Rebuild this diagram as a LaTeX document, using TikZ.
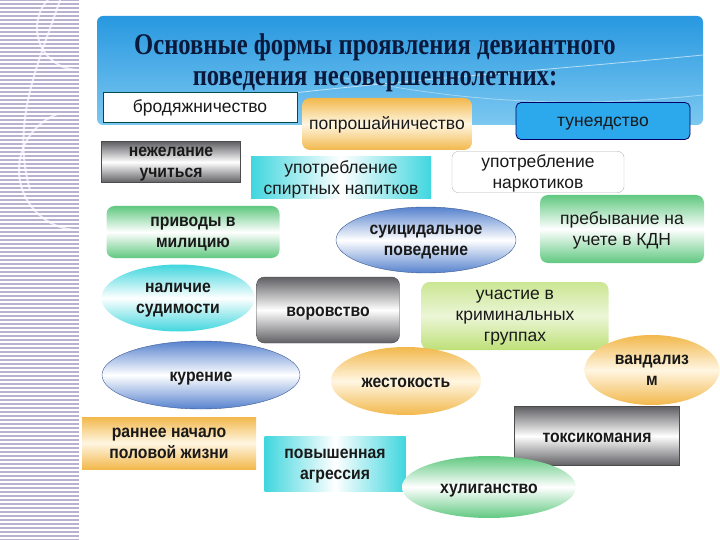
\documentclass[tikz,border=0pt]{standalone}
\usepackage{fontspec}
\setmainfont{Liberation Sans}
\newfontfamily\boxfont{Liberation Sans}
\newfontfamily\boldfont[FakeStretch=0.9]{Liberation Sans Bold}
\newfontfamily\titlefont[FakeStretch=0.82]{Liberation Serif Bold}
\usetikzlibrary{shapes.geometric}
\definecolor{lavender}{RGB}{186,176,208}
\definecolor{bannertop}{RGB}{40,152,224}
\definecolor{bannerbot}{RGB}{124,200,240}
\definecolor{titleink}{RGB}{10,24,60}
\definecolor{orng}{RGB}{242,184,76}
\definecolor{cream}{RGB}{255,246,226}
\definecolor{grn}{RGB}{96,200,128}
\definecolor{cyn}{RGB}{64,214,222}
\definecolor{blu}{RGB}{86,130,206}
\definecolor{lime}{RGB}{190,224,120}
\definecolor{sky}{RGB}{44,168,236}
\definecolor{steel}{RGB}{96,96,100}
\newcommand{\bt}{\boldfont}

\begin{document}
\begin{tikzpicture}[x=1pt, y=-1pt,
  every node/.style={font=\boxfont\fontsize{17.5}{21}\selectfont, align=center, inner sep=2pt, text depth=-3pt, text=black!90},
  oneline/.style={text height=12pt, text depth=0pt},
  whitebox/.style={rectangle, draw=teal!60!black, fill=white, thick},
  plainbox/.style={rectangle, rounded corners=6pt, draw=gray!60, fill=white},
  skybox/.style={rectangle, rounded corners=5pt, draw=blue!40!black, fill=sky, thick},
  metal/.style={rectangle, top color=steel, bottom color=steel, middle color=white, draw=black!70},
  orangebox/.style={rectangle, top color=orng, bottom color=orng, middle color=cream},
  greenbox/.style={rectangle, rounded corners=8pt, top color=grn, bottom color=grn, middle color=white},
  cyanbox/.style={rectangle, left color=cyn, right color=cyn, middle color=white},
  limebox/.style={rectangle, rounded corners=8pt, top color=lime!80, bottom color=lime, middle color=lime!30},
  blueoval/.style={ellipse, top color=blu, bottom color=blu, middle color=white, draw=blu!70!black},
  orangeoval/.style={ellipse, top color=orng, bottom color=orng, middle color=cream},
  greenoval/.style={ellipse, top color=grn, bottom color=grn, middle color=white},
  cyanoval/.style={ellipse, top color=cyn, bottom color=cyn, middle color=white},
]
\useasboundingbox (0,0) rectangle (720,540);
% side strip
\fill[lavender] (0,0) rectangle (79,540);
\foreach \y in {2,6,...,538}
  \draw[white, line width=1.2pt] (0,\y) -- (79,\y);
\draw[white, opacity=0.7, line width=2pt] (60,0) .. controls (40,60) and (10,120) .. (30,190);
\draw[white, opacity=0.7, line width=2pt] (79,70) arc[start angle=90, end angle=270, radius=42];
\draw[white, opacity=0.7, line width=2pt] (79,230) arc[start angle=90, end angle=250, radius=60];
% banner
\shade[top color=bannertop, bottom color=bannerbot, rounded corners=6pt] (97,16) rectangle (703,125);
\draw[white, opacity=0.6, thick] (250,98) .. controls (400,80) and (550,70) .. (703,55);
\draw[white, opacity=0.4, thick] (330,75) .. controls (450,100) and (560,110) .. (703,95);
\node[font=\titlefont\fontsize{30}{31}\selectfont, text=titleink, text depth=] (title) at (375,63)
  {Основные формы проявления девиантного\\поведения несовершеннолетних:};
% boxes
\node[whitebox, oneline, minimum width=194, minimum height=30] (brod) at (200,107) {бродяжничество};
\node[orangebox, oneline, rounded corners=8pt, minimum width=170, minimum height=52] (popr) at (387,124) {попрошайничество};
\node[skybox, oneline, minimum width=174, minimum height=37] (tuney) at (603,121) {тунеядство};
\node[metal, minimum width=139, minimum height=41] (nezh) at (171,162) {\bt нежелание\\\bt учиться};
\node[cyanbox, minimum width=180, minimum height=42] (spirt) at (341,178) {употребление\\спиртных напитков};
\node[plainbox, minimum width=172, minimum height=41] (nark) at (538,172) {употребление\\наркотиков};
\node[greenbox, minimum width=173, minimum height=52] (privod) at (193,232) {\bt приводы в\\\bt милицию};
\node[blueoval, minimum width=180, minimum height=66] (suic) at (426,240) {\bt суицидальное\\\bt поведение};
\node[greenbox, minimum width=164, minimum height=68] (uchet) at (622,229) {пребывание на\\учете в КДН};
\node[cyanoval, minimum width=153, minimum height=67] (sudim) at (178,298) {\bt наличие\\\bt судимости};
\node[metal, oneline, rounded corners=8pt, minimum width=143, minimum height=66] (vorov) at (328,310) {\bt воровство};
\node[limebox, minimum width=187, minimum height=68] (krim) at (515,316) {участие в\\криминальных\\группах};
\node[blueoval, oneline, minimum width=198, minimum height=68] (kur) at (201,375) {\bt курение};
\node[orangeoval, oneline, minimum width=150, minimum height=68] (zhest) at (406,381) {\bt жестокость};
\node[orangeoval, minimum width=135, minimum height=70] (vand) at (652,370) {\bt вандализ\\\bt м};
\node[orangebox, minimum width=174, minimum height=52] (rann) at (169,443) {\bt раннее начало\\\bt половой жизни};
\node[cyanbox, minimum width=141, minimum height=55] (agr) at (335,464) {\bt повышенная\\\bt агрессия};
\node[metal, oneline, minimum width=165, minimum height=59] (toks) at (597,436) {\bt токсикомания};
\node[greenoval, oneline, minimum width=174, minimum height=62] (hul) at (489,487) {\bt хулиганство};
\end{tikzpicture}
\end{document}
